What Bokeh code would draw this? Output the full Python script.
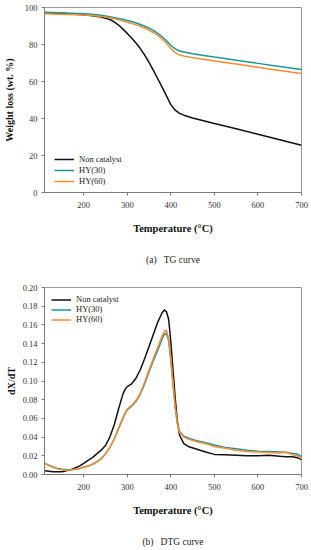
from bokeh.plotting import figure
from bokeh.layouts import column
from bokeh.models import LinearAxis, Range1d, FixedTicker, NumeralTickFormatter
from bokeh.embed import file_html
from bokeh.resources import INLINE

# ---------------- data ----------------
series_names = ["Non catalyst", "HY(30)", "HY(60)"]
series_colors = ["#111111", "#17989a", "#ff8a2a"]

# TG curve (weight loss, wt.%)
tg_temp = [110, 130, 150, 170, 200, 220, 240, 260, 270, 280, 290, 300, 310, 320, 330,
           340, 350, 360, 370, 380, 390, 400, 410, 420, 430, 450, 475, 500, 550, 600, 650, 700]
tg_non = [97.0, 96.9, 96.7, 96.5, 96.1, 95.6, 94.8, 93.5, 92.2, 90.5, 88.3, 86.0, 83.5, 80.8, 77.8,
          74.3, 70.3, 66.0, 61.5, 57.0, 52.2, 47.5, 44.5, 42.8, 41.8, 40.3, 38.8, 37.3, 34.5, 31.5, 28.5, 25.5]
tg_hy30 = [97.5, 97.3, 97.1, 96.9, 96.6, 96.3, 95.8, 95.0, 94.5, 94.0, 93.6, 93.0, 92.4, 91.6, 90.8,
           89.9, 88.9, 87.6, 86.0, 84.2, 82.0, 79.6, 77.6, 76.5, 75.9, 75.0, 74.1, 73.2, 71.5, 69.8, 68.1, 66.5]
tg_hy60 = [96.6, 96.5, 96.4, 96.2, 96.0, 95.7, 95.2, 94.4, 93.9, 93.3, 92.7, 92.0, 91.4, 90.6, 89.8,
           88.9, 87.8, 86.5, 84.9, 83.0, 80.7, 78.0, 75.6, 74.4, 73.8, 72.9, 72.0, 71.1, 69.4, 67.7, 66.0, 64.3]

# DTG curve (dX/dT)
dtg_temp = [110, 120, 130, 140, 150, 160, 170, 180, 190, 200, 210, 220, 230, 240, 250, 260, 270, 280,
            290, 295, 300, 310, 320, 330, 340, 350, 360, 370, 380, 385, 390, 395, 400, 405, 410, 415,
            420, 430, 440, 460, 480, 500, 525, 550, 575, 600, 625, 650, 665, 680, 690, 700]
dtg_non = [0.004, 0.0035, 0.003, 0.003, 0.003, 0.004, 0.005, 0.007, 0.009, 0.012, 0.015, 0.018, 0.022,
           0.026, 0.031, 0.040, 0.053, 0.070, 0.086, 0.091, 0.094, 0.097, 0.103, 0.112, 0.124, 0.137,
           0.150, 0.163, 0.173, 0.176, 0.174, 0.166, 0.142, 0.112, 0.082, 0.057, 0.042, 0.033, 0.030,
           0.027, 0.024, 0.0215, 0.021, 0.0205, 0.020, 0.020, 0.0205, 0.0195, 0.019, 0.019, 0.018, 0.016]
dtg_hy30 = [0.012, 0.010, 0.008, 0.0065, 0.0055, 0.005, 0.005, 0.0055, 0.0065, 0.008, 0.009, 0.011,
            0.0135, 0.017, 0.022, 0.029, 0.038, 0.049, 0.060, 0.065, 0.069, 0.073, 0.078, 0.086, 0.097,
            0.110, 0.122, 0.133, 0.145, 0.150, 0.151, 0.143, 0.122, 0.097, 0.072, 0.055, 0.046, 0.041,
            0.039, 0.036, 0.034, 0.0315, 0.029, 0.0275, 0.026, 0.025, 0.0245, 0.024, 0.0235, 0.0225,
            0.022, 0.019]
dtg_hy60 = [0.012, 0.0095, 0.0075, 0.006, 0.005, 0.0045, 0.0048, 0.0055, 0.0065, 0.0078, 0.009, 0.0108,
            0.0133, 0.0168, 0.022, 0.029, 0.038, 0.050, 0.061, 0.066, 0.070, 0.074, 0.079, 0.087, 0.099,
            0.112, 0.124, 0.136, 0.148, 0.153, 0.154, 0.145, 0.124, 0.098, 0.072, 0.054, 0.045, 0.040,
            0.038, 0.035, 0.033, 0.030, 0.028, 0.026, 0.0245, 0.024, 0.0235, 0.023, 0.024, 0.021,
            0.020, 0.017]

x_ticks = [200, 300, 400, 500, 600, 700]
tg_ticks = [0, 20, 40, 60, 80, 100]
dtg_ticks = [0.00, 0.02, 0.04, 0.06, 0.08, 0.10, 0.12, 0.14, 0.16, 0.18, 0.20]

SERIF = "Liberation Serif"
NB = "\u00a0"


def style(p, ylabel, caption, ylabel_standoff, cap_standoff):
    p.outline_line_color = "#9a9a9a"
    p.xgrid.visible = False
    p.ygrid.visible = False
    for ax in (p.xaxis[0], p.yaxis[0]):
        ax.axis_line_color = "#7a7a7a"
        ax.major_tick_line_color = "#7a7a7a"
        ax.minor_tick_line_color = None
        ax.major_tick_out = 3
        ax.major_tick_in = 0
        ax.major_label_text_font = SERIF
        ax.major_label_text_font_size = "8.5px"
        ax.major_label_text_color = "#333333"
        ax.major_label_standoff = 4
        ax.axis_label_text_font = SERIF
        ax.axis_label_text_font_style = "bold"
        ax.axis_label_text_color = "#111111"
    p.xaxis[0].major_label_standoff = 6
    p.xaxis[0].axis_label = "Temperature (°C)"
    p.xaxis[0].axis_label_text_font_size = "10.5px"
    p.xaxis[0].axis_label_standoff = 12
    p.xaxis[0].ticker = FixedTicker(ticks=x_ticks)
    p.yaxis[0].axis_label = ylabel
    p.yaxis[0].axis_label_text_font_size = "10px"
    p.yaxis[0].axis_label_standoff = ylabel_standoff
    cap = LinearAxis(ticker=FixedTicker(ticks=[]), axis_line_color=None,
                     major_tick_line_color=None, minor_tick_line_color=None,
                     major_tick_out=0, major_label_standoff=0,
                     axis_label=caption, axis_label_standoff=cap_standoff,
                     axis_label_text_font=SERIF, axis_label_text_font_size="9.5px",
                     axis_label_text_font_style="normal", axis_label_text_color="#222222")
    p.add_layout(cap, "below")


# ---------------- TG figure ----------------
p1 = figure(width=311, height=275, output_backend="svg", toolbar_location=None,
            x_range=Range1d(110, 700), y_range=Range1d(0, 100),
            min_border_left=43, min_border_right=10, min_border_top=7, min_border_bottom=83)
for ys, name, col in zip([tg_non, tg_hy30, tg_hy60], series_names, series_colors):
    p1.line(tg_temp, ys, line_color=col, line_width=1.5, legend_label=name)
style(p1, "Weight loss (wt. %)", "(a)" + NB * 3 + "TG curve", 7, 18)
p1.yaxis[0].ticker = FixedTicker(ticks=tg_ticks)
lg = p1.legend[0]
lg.location = (10, 6)
lg.background_fill_alpha = 0
lg.border_line_color = None
lg.padding = 0
lg.margin = 0
lg.spacing = 1
lg.glyph_width = 20
lg.glyph_height = 10
lg.label_height = 10
lg.label_standoff = 5
lg.label_text_font = SERIF
lg.label_text_font_size = "8.5px"
lg.label_text_color = "#222222"

# ---------------- DTG figure ----------------
p2 = figure(width=311, height=275, output_backend="svg", toolbar_location=None,
            x_range=Range1d(110, 700), y_range=Range1d(0, 0.2),
            min_border_left=41, min_border_right=9, min_border_top=12, min_border_bottom=76)
for ys, name, col in zip([dtg_non, dtg_hy30, dtg_hy60], series_names, series_colors):
    p2.line(dtg_temp, ys, line_color=col, line_width=1.5, legend_label=name)
style(p2, "dX/dT", "(b)" + NB * 3 + "DTG curve", 3, 18)
p2.yaxis[0].ticker = FixedTicker(ticks=dtg_ticks)
p2.yaxis[0].formatter = NumeralTickFormatter(format="0.00")
lg2 = p2.legend[0]
lg2.location = "top_left"
lg2.background_fill_alpha = 0
lg2.border_line_color = None
lg2.padding = 0
lg2.margin = 7
lg2.spacing = 0
lg2.glyph_width = 20
lg2.glyph_height = 9
lg2.label_height = 9
lg2.label_standoff = 5
lg2.label_text_font = SERIF
lg2.label_text_font_size = "8.5px"
lg2.label_text_color = "#222222"

layout = column(p1, p2, spacing=0)
open("out.html", "w").write(file_html(layout, INLINE))
